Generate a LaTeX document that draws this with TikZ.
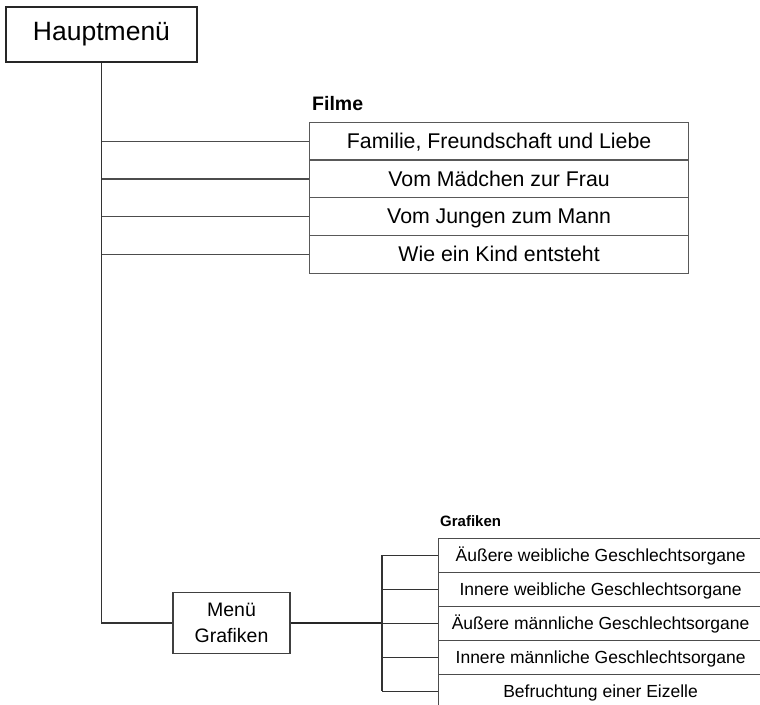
\documentclass[tikz,border=0pt]{standalone}
\usepackage{fontspec}
\setmainfont{Liberation Sans}
\begin{document}
\begin{tikzpicture}[x=1pt,y=-1pt,
  line/.style={draw=black!80, line width=1.2pt},
  hmbox/.style={draw=black!85, line width=2pt, minimum width=191pt, minimum height=55pt, inner sep=0pt, font=\fontsize{26.5}{30}\selectfont},
  filmrow/.style={draw=black!65, line width=1.2pt, minimum width=379pt, minimum height=37.75pt, inner sep=0pt, anchor=north west, text height=15.5pt, text depth=1pt, font=\fontsize{21.3}{24}\selectfont},
  grafrow/.style={draw=black!70, line width=1.2pt, minimum width=324pt, minimum height=34pt, inner sep=0pt, anchor=north west, text height=13pt, text depth=1pt, font=\fontsize{17.5}{21}\selectfont},
  mgbox/.style={draw=black!75, line width=1.2pt, minimum width=117pt, minimum height=60.6pt, inner sep=0pt, align=center, font=\fontsize{19.5}{25.5}\selectfont},
  head/.style={anchor=base west, inner sep=0pt, font=\bfseries}
]
\clip (0,0) rectangle (760,704);
\fill[white] (0,0) rectangle (760,704);

\node[hmbox] (hm) at (101.5,34.5) {Hauptmenü};

\node[head, font=\fontsize{19.5}{22}\selectfont\bfseries] (filme) at (312,110) {Filme};
\node[filmrow] (f1) at (309,121.7) {Familie, Freundschaft und Liebe};
\node[filmrow] (f2) at (309,159.45) {Vom Mädchen zur Frau};
\node[filmrow] (f3) at (309,197.2) {Vom Jungen zum Mann};
\node[filmrow] (f4) at (309,234.95) {Wie ein Kind entsteht};

\node[mgbox] (mg) at (231.5,623) {Menü\\Grafiken};

\node[head, font=\fontsize{15}{18}\selectfont\bfseries] (graf) at (440,526.5) {Grafiken};
\node[grafrow] (g1) at (438,537.5) {Äußere weibliche Geschlechtsorgane};
\node[grafrow] (g2) at (438,571.5) {Innere weibliche Geschlechtsorgane};
\node[grafrow] (g3) at (438,605.5) {Äußere männliche Geschlechtsorgane};
\node[grafrow] (g4) at (438,639.5) {Innere männliche Geschlechtsorgane};
\node[grafrow] (g5) at (438,673.5) {Befruchtung einer Eizelle};

\coordinate (gx) at (382,0);

% main trunk
\draw[line] (hm.south) |- (mg.west);
\foreach \r in {f1,f2,f3,f4}{
  \draw[line, draw=black!70] (hm.south |- \r.west) -- (\r.west);
}
% Grafiken branch
\draw[line, line width=1.8pt, draw=black!85] (mg.east) -- (mg.east -| gx);
\draw[line] (gx |- g1.west) -- (gx |- g5.west);
\foreach \r in {g1,g2,g3,g4,g5}{
  \draw[line] (gx |- \r.west) -- (\r.west);
}
\end{tikzpicture}
\end{document}
